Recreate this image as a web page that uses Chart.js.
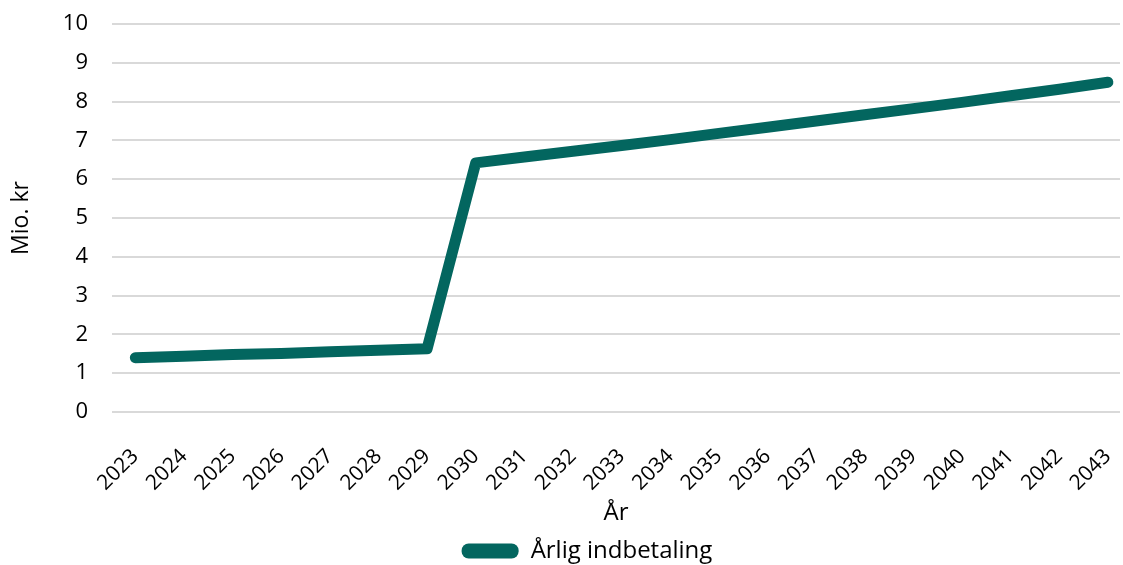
<!DOCTYPE html>
<html>
<head>
<meta charset="utf-8">
<script src="https://cdn.jsdelivr.net/npm/chart.js@4"></script>
<style>
  html, body { margin: 0; padding: 0; background: #fff; }
  #wrap { width: 1123px; height: 565px; }
</style>
</head>
<body>
<div id="wrap"><canvas id="chart"></canvas></div>
<script>
// Data
const years = [2023, 2024, 2025, 2026, 2027, 2028, 2029, 2030, 2031, 2032, 2033,
               2034, 2035, 2036, 2037, 2038, 2039, 2040, 2041, 2042, 2043];
const indbetaling = [1.40, 1.44, 1.48, 1.51, 1.55, 1.59, 1.63, 6.42, 6.57, 6.72, 6.87,
                     7.02, 7.18, 7.34, 7.50, 7.66, 7.82, 7.98, 8.15, 8.32, 8.50];
const yTicks = [0, 1, 2, 3, 4, 5, 6, 7, 8, 9, 10];

const teal = '#03665f';
const fontName = '"Open Sans", sans-serif';

// Legenden sidder lidt til højre og lavere i originalen
const legendShift = {
    id: 'legendShift',
    afterLayout(chart) {
        const lg = chart.legend;
        lg.left += 27; lg.right += 27;
        lg.top += 8; lg.bottom += 8;
    }
};

document.addEventListener('DOMContentLoaded', function() {
    const ctx = document.getElementById('chart').getContext('2d');

    new Chart(ctx, {
        type: 'line',
        data: {
            datasets: [{
                label: 'Årlig indbetaling',
                data: years.map((y, i) => ({ x: y, y: indbetaling[i] })),
                borderColor: teal,
                backgroundColor: teal,
                borderWidth: 11,
                borderCapStyle: 'round',
                borderJoinStyle: 'round',
                pointRadius: 0,
                tension: 0
            }]
        },
        plugins: [legendShift],
        options: {
            responsive: true,
            maintainAspectRatio: false,
            animation: false,
            layout: { padding: { top: 24, right: 3, left: 0, bottom: 0 } },
            plugins: {
                tooltip: { enabled: false },
                legend: {
                    position: 'bottom',
                    labels: {
                        color: '#000',
                        font: { family: fontName, size: 24 },
                        boxWidth: 57,
                        boxHeight: 15,
                        padding: 2,
                        useBorderRadius: true,
                        borderRadius: 7,
                        generateLabels: chart => [{
                            text: 'Årlig indbetaling',
                            fillStyle: teal,
                            strokeStyle: teal,
                            lineWidth: 0,
                            borderRadius: 7,
                            datasetIndex: 0
                        }]
                    }
                }
            },
            scales: {
                x: {
                    type: 'linear',
                    min: 2022.52,
                    max: 2043.25,
                    afterBuildTicks: scale => { scale.ticks = years.map(v => ({ value: v })); },
                    afterFit: scale => {
                        scale.height = 117;
                        scale.paddingLeft = 0;
                        scale.paddingRight = 0;
                    },
                    grid: { display: false, drawTicks: false },
                    border: { display: false },
                    ticks: {
                        color: '#000',
                        font: { family: fontName, size: 21 },
                        minRotation: 45,
                        maxRotation: 45,
                        padding: 32,
                        callback: v => String(v)
                    },
                    title: {
                        display: true,
                        text: 'År',
                        color: '#000',
                        font: { family: fontName, size: 24 },
                        padding: { top: 4, bottom: 1 }
                    }
                },
                y: {
                    min: 0,
                    max: 10,
                    afterBuildTicks: scale => { scale.ticks = yTicks.map(v => ({ value: v })); },
                    afterFit: scale => {
                        scale.width = 112;
                        scale.paddingTop = 0;
                        scale.paddingBottom = 0;
                    },
                    grid: { color: '#d9d9d9', lineWidth: 2, drawTicks: false },
                    border: { display: false },
                    ticks: {
                        color: '#000',
                        font: { family: fontName, size: 22 },
                        padding: 24
                    },
                    title: {
                        display: true,
                        text: 'Mio. kr',
                        color: '#000',
                        font: { family: fontName, size: 23 },
                        padding: { top: 8, bottom: 0 }
                    }
                }
            }
        }
    });
});
</script>
</body>
</html>
